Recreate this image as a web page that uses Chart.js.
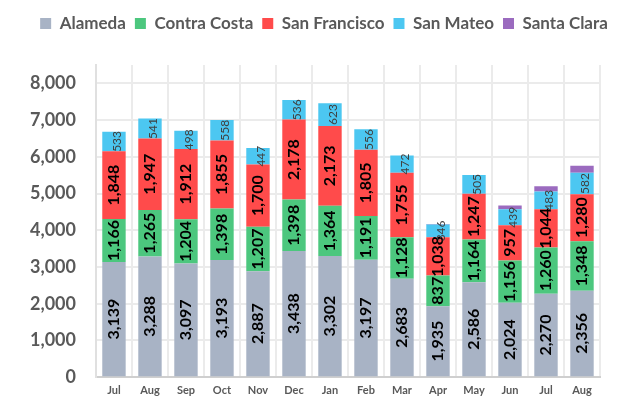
<!DOCTYPE html>
<html>
<head>
<meta charset="utf-8">
<script src="https://cdn.jsdelivr.net/npm/chart.js@4/dist/chart.umd.min.js"></script>
<style>
  html, body { margin: 0; padding: 0; background: #fff; }
  #wrap { width: 629px; height: 408px; position: relative; }
</style>
</head>
<body>
<div id="wrap"><canvas id="chart"></canvas></div>
<script>
// months Jul -> Aug
const months = ['Jul', 'Aug', 'Sep', 'Oct', 'Nov', 'Dec', 'Jan', 'Feb', 'Mar', 'Apr', 'May', 'Jun', 'Jul', 'Aug'];

const alameda      = [3139, 3288, 3097, 3193, 2887, 3438, 3302, 3197, 2683, 1935, 2586, 2024, 2270, 2356];
const contraCosta  = [1166, 1265, 1204, 1398, 1207, 1398, 1364, 1191, 1128, 837, 1164, 1156, 1260, 1348];
const sanFrancisco = [1848, 1947, 1912, 1855, 1700, 2178, 2173, 1805, 1755, 1038, 1247, 957, 1044, 1280];
const sanMateo     = [533, 541, 498, 558, 447, 536, 623, 556, 472, 346, 505, 439, 483, 582];
const santaClara   = [0, 0, 0, 0, 0, 0, 0, 0, 0, 12, 0, 100, 140, 190];

const yTicks = { min: 0, max: 8500, step: 500, labelEvery: 1000 };

const FONT = 'Lato, "Open Sans", sans-serif';
const TEXT = '#595959';

// draws the rotated numbers inside each segment
const segmentLabels = {
	id: 'segmentLabels',
	afterDatasetsDraw(chart) {
		const ctx = chart.ctx;
		chart.data.datasets.forEach((ds, i) => {
			if (!chart.isDatasetVisible(i) || ds.noLabels) return;
			const meta = chart.getDatasetMeta(i);
			meta.data.forEach((bar, j) => {
				const v = ds.data[j];
				if (!v) return;
				const p = bar.getProps(['x', 'y', 'base'], true);
				ctx.save();
				ctx.translate(p.x + (ds.labelShift || 0), (p.y + p.base) / 2);
				ctx.rotate(-Math.PI / 2);
				ctx.font = ds.labelFont;
				ctx.fillStyle = ds.labelColor;
				ctx.textAlign = 'center';
				ctx.textBaseline = 'middle';
				ctx.fillText(v.toLocaleString('en-US'), 0, 0);
				ctx.restore();
			});
		});
	}
};

// more room under the legend, and nudge it right a bit
const legendSpacing = {
	id: 'legendSpacing',
	beforeInit(chart) {
		const fit = chart.legend.fit;
		chart.legend.fit = function () {
			fit.bind(chart.legend)();
			this.height += 23;
		};
	},
	afterLayout(chart) {
		chart.legend.left += 19;
		chart.legend.right += 19;
	}
};

const bold = 'bold 16px ' + FONT;

new Chart(document.getElementById('chart'), {
	type: 'bar',
	data: {
		labels: months,
		datasets: [
			{ label: 'Alameda', data: alameda, backgroundColor: '#A8B3C5', labelFont: bold, labelColor: '#000' },
			{ label: 'Contra Costa', data: contraCosta, backgroundColor: '#4CC77E', labelFont: bold, labelColor: '#000' },
			{ label: 'San Francisco', data: sanFrancisco, backgroundColor: '#FF4B4B', labelFont: bold, labelColor: '#000' },
			{ label: 'San Mateo', data: sanMateo, backgroundColor: '#4CC7F1', labelFont: '12px ' + FONT, labelColor: '#404040', labelShift: 3 },
			{ label: 'Santa Clara', data: santaClara, backgroundColor: '#9B6BBF', noLabels: true }
		]
	},
	options: {
		responsive: true,
		maintainAspectRatio: false,
		animation: false,
		layout: { padding: { left: 10, right: 29, top: 6, bottom: 0 } },
		datasets: {
			bar: { barPercentage: 0.65, categoryPercentage: 1, borderWidth: 0 }
		},
		plugins: {
			legend: {
				position: 'top',
				labels: {
					boxWidth: 11,
					boxHeight: 11,
					padding: 9,
					color: TEXT,
					font: { family: FONT, size: 17, weight: 'bold' }
				}
			},
			tooltip: { enabled: false }
		},
		scales: {
			x: {
				stacked: true,
				grid: { color: '#EBEBEB', lineWidth: 2, offset: true, drawTicks: false },
				border: { color: '#CFCFCF', width: 2 },
				ticks: { color: TEXT, padding: 7, font: { family: FONT, size: 11, weight: 'bold' } }
			},
			y: {
				stacked: true,
				min: yTicks.min,
				max: yTicks.max,
				grid: { color: '#EBEBEB', lineWidth: 2, drawTicks: false },
				border: { color: '#E0E0E0', width: 2 },
				ticks: {
					stepSize: yTicks.step,
					padding: 20,
					color: TEXT,
					font: { family: FONT, size: 18, weight: 'bold' },
					callback: v => (v % yTicks.labelEvery === 0 && v < yTicks.max) ? v.toLocaleString('en-US') : ''
				}
			}
		}
	},
	plugins: [segmentLabels, legendSpacing]
});
</script>
</body>
</html>
